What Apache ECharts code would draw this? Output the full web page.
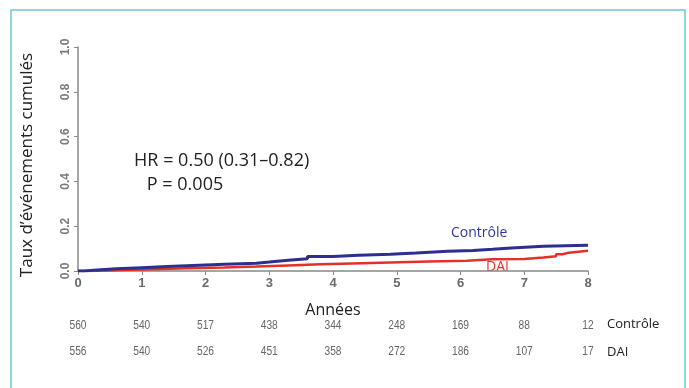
<!DOCTYPE html>
<html><head><meta charset="utf-8">
<script src="https://cdn.jsdelivr.net/npm/echarts@6/dist/echarts.min.js"></script>
<style>html,body{margin:0;padding:0;background:#fff}#c{width:689px;height:388px}</style>
</head><body><div id="c"></div>
<script>
var years = [0,1,2,3,4,5,6,7,8];
var yTicks = [0,0.2,0.4,0.6,0.8,1.0];
var controleCurve = [[0,0],[0.1,0.005],[0.3,0.01],[0.6,0.015],[1,0.02],[1.4,0.025],[1.8,0.03],[2.3,0.035],[2.8,0.04],[3.0,0.048],[3.3,0.055],[3.6,0.065],[4.0,0.07],[4.4,0.075],[4.9,0.08],[5.3,0.088],[5.8,0.092],[6.2,0.097],[6.5,0.103],[6.8,0.11],[7.3,0.115],[8,0.117]];
var daiCurve = [[0,0],[0.2,0.004],[0.7,0.008],[1.2,0.012],[1.7,0.016],[2.3,0.02],[2.8,0.025],[3.3,0.03],[3.8,0.034],[4.3,0.038],[4.9,0.042],[5.5,0.046],[6.1,0.052],[6.5,0.054],[7.0,0.06],[7.3,0.066],[7.5,0.075],[7.6,0.082],[7.7,0.09],[8,0.09]];
var atRiskControle = [560,540,517,438,344,248,169,88,12];
var atRiskDAI = [556,540,526,451,358,272,186,107,17];
var groupNames = ['Contrôle','DAI'];
var statText = ['HR = 0.50 (0.31\u20130.82)','P = 0.005'];

var chart = echarts.init(document.getElementById('c'));
var option = {
  animation:false,
  grid:{left:78,right:101,top:47,bottom:117},
  xAxis:{type:'value',min:0,max:8,interval:1,
    name:'Années',nameLocation:'middle',nameGap:31,
    nameTextStyle:{fontFamily:'Open Sans',fontSize:16,color:'#222'},
    axisLine:{show:true,onZero:false,lineStyle:{color:'#888',width:1.5}},
    axisTick:{show:true,length:4,lineStyle:{color:'#888'}},
    axisLabel:{fontFamily:'Liberation Sans',fontSize:13,fontWeight:'bold',color:'#6a6a6a',margin:6},
    splitLine:{show:false}},
  yAxis:{type:'value',min:0,max:1,interval:0.2,
    name:'Taux d\u2019événements cumulés',nameLocation:'middle',nameGap:42,
    nameTextStyle:{fontFamily:'Open Sans',fontSize:17,color:'#222',padding:[0,0,0,-12]},
    axisLine:{show:true,lineStyle:{color:'#888',width:1.5}},
    axisTick:{show:true,length:4,lineStyle:{color:'#888'}},
    axisLabel:{rotate:90,fontFamily:'Liberation Sans',fontSize:12,fontWeight:'bold',color:'#7a7a7a',margin:6,
      formatter:function(v){return v.toFixed(1);}},
    splitLine:{show:false}},
  series:[
    {name:groupNames[0],type:'line',step:'end',data:controleCurve,showSymbol:false,
     lineStyle:{color:'#2d2f8e',width:3},z:3},
    {name:groupNames[1],type:'line',step:'end',data:daiCurve,showSymbol:false,
     lineStyle:{color:'#e5302a',width:2.5},z:2}
  ]
};
chart.setOption(option);

function px(x,y){return chart.convertToPixel({gridIndex:0},[x,y]);}
var g = [];
g.push({type:'rect',shape:{x:11,y:10,width:674,height:380},style:{fill:'none',stroke:'#6cc9cc',lineWidth:1.5},silent:true});
var lastX = years[years.length-1];
years.forEach(function(yr,i){
  var p = px(yr,0);
  g.push({type:'text',x:p[0],y:326,scaleX:0.85,style:{text:String(atRiskControle[i]),font:'12px "Liberation Sans"',fill:'#666',align:'center',verticalAlign:'middle'}});
  g.push({type:'text',x:p[0],y:352,scaleX:0.85,style:{text:String(atRiskDAI[i]),font:'12px "Liberation Sans"',fill:'#666',align:'center',verticalAlign:'middle'}});
});
var pe = px(lastX,0);
g.push({type:'text',x:pe[0]+19,y:324,style:{text:groupNames[0],font:'13px "Open Sans"',fill:'#222',align:'left',verticalAlign:'middle'}});
g.push({type:'text',x:pe[0]+19,y:352,style:{text:groupNames[1],font:'13px "Open Sans"',fill:'#222',align:'left',verticalAlign:'middle'}});
// curve labels
var pc = px(5.85, 0.17);
g.push({type:'text',x:pc[0],y:pc[1],style:{text:groupNames[0],font:'14px "Open Sans"',fill:'#2d3a9a',align:'left',verticalAlign:'middle'}});
var pd = px(6.4, 0.02);
g.push({type:'text',x:pd[0],y:pd[1],style:{text:groupNames[1],font:'14px "Open Sans"',fill:'#e5302a',align:'left',verticalAlign:'middle'}});
// stats
var ph = px(0.88, 0.49);
g.push({type:'text',x:ph[0],y:ph[1],style:{text:statText[0],font:'18px "Open Sans"',fill:'#222',align:'left',verticalAlign:'middle'}});
var pp = px(1.08, 0.385);
g.push({type:'text',x:pp[0],y:pp[1],style:{text:statText[1],font:'18px "Open Sans"',fill:'#222',align:'left',verticalAlign:'middle'}});
chart.setOption({graphic:g});
</script></body></html>
